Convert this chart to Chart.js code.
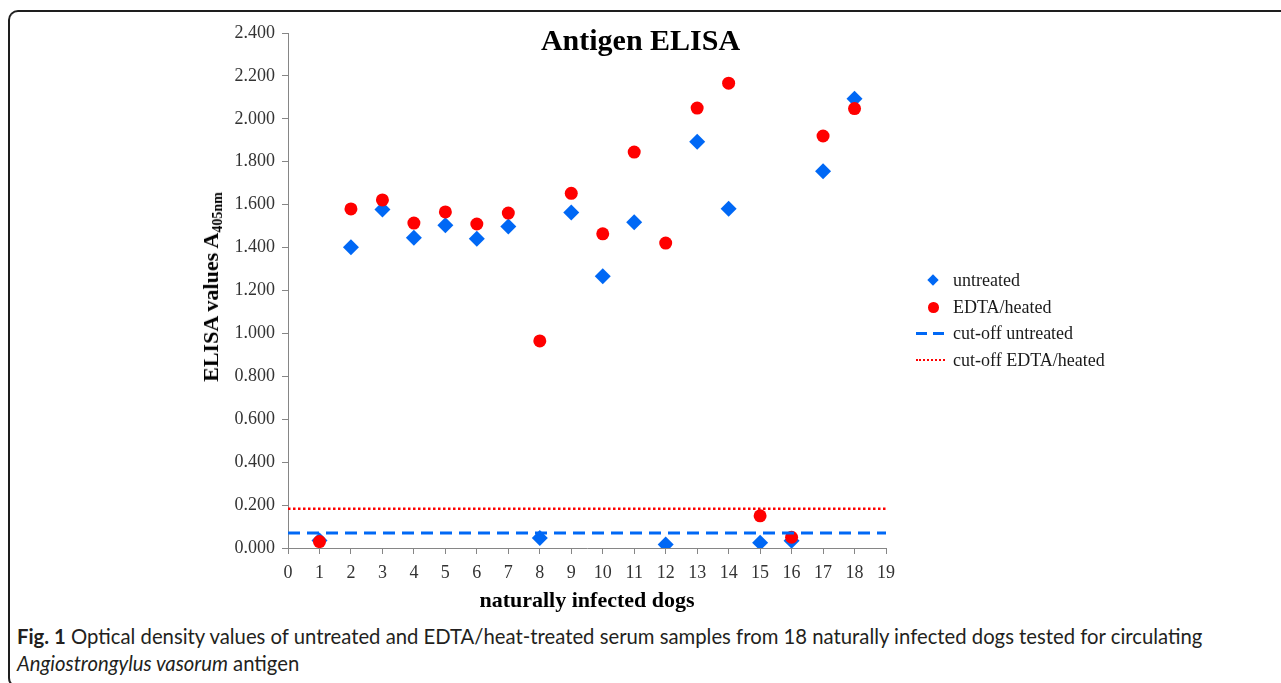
<!DOCTYPE html>
<html>
<head>
<meta charset="utf-8">
<script src="https://cdn.jsdelivr.net/npm/chart.js@4.4.1/dist/chart.umd.min.js"></script>
<style>
  html, body { margin: 0; padding: 0; background: #fff; overflow: hidden; }
  body { width: 1281px; height: 683px; position: relative; }
  #frame { position: absolute; left: 8px; top: 10px; width: 1290px; height: 678px;
           border: 2px solid #1e1e1e; border-right: none; border-radius: 10px 0 0 10px; box-sizing: border-box; }
  #elisaChart { position: absolute; left: 0; top: 0; }
  #title { position: absolute; left: 0; width: 1281px; top: 23px; text-align: center;
           font: bold 30px "Liberation Serif", serif; color: #000; }
  #ytitle { position: absolute; left: 212px; top: 287px; white-space: nowrap;
            transform: translate(-50%, -50%) rotate(-90deg);
            font: bold 22px "Liberation Serif", serif; color: #000; }
  #ytitle sub { font-size: 14px; vertical-align: -4px; }
  .lg-text { position: absolute; left: 953px; font: 18px "Liberation Serif", serif; color: #1a1a1a;
             line-height: 20px; margin-top: -10px; white-space: nowrap; }
  .sym { position: absolute; }
  #caption { position: absolute; left: 17px; top: 623px; font: 20.3px Lato, sans-serif; color: #231f20;
             line-height: 27px; white-space: nowrap; }
</style>
</head>
<body>
<div id="frame"></div>
<canvas id="elisaChart" width="1281" height="620"></canvas>
<div id="title">Antigen ELISA</div>
<div id="ytitle">ELISA values A<sub>405nm</sub></div>

<div class="sym" style="left:929px;top:276px;width:8px;height:8px;background:#0068f5;transform:rotate(45deg)"></div>
<div class="lg-text" style="top:280px">untreated</div>
<div class="sym" style="left:928px;top:302px;width:10.5px;height:10.5px;border-radius:50%;background:#ff0000"></div>
<div class="lg-text" style="top:307px">EDTA/heated</div>
<div class="sym" style="left:916px;top:332px;width:11px;height:3px;background:#0068f5"></div>
<div class="sym" style="left:933px;top:332px;width:11px;height:3px;background:#0068f5"></div>
<div class="lg-text" style="top:333px">cut-off untreated</div>
<div class="sym" style="left:916px;top:359px;width:29px;height:0;border-top:2.5px dotted #ff0000"></div>
<div class="lg-text" style="top:360px">cut-off EDTA/heated</div>

<div id="caption"><b>Fig. 1</b> Optical density values of untreated and EDTA/heat-treated serum samples from 18 naturally infected dogs tested for circulating<br><i>Angiostrongylus vasorum</i> antigen</div>

<script>
// dog number on the x axis
const dogs = [1, 2, 3, 4, 5, 6, 7, 8, 9, 10, 11, 12, 13, 14, 15, 16, 17, 18];
// A405nm values
const untreated  = [0.035, 1.402, 1.578, 1.446, 1.504, 1.441, 1.498, 0.047, 1.563, 1.266, 1.518, 0.016, 1.893, 1.581, 0.025, 0.034, 1.756, 2.094];
const edtaHeated = [0.030, 1.580, 1.622, 1.514, 1.566, 1.510, 1.561, 0.965, 1.653, 1.464, 1.845, 1.421, 2.050, 2.166, 0.150, 0.050, 1.920, 2.048];
// cut-off levels
const cutoffUntreated = 0.070;
const cutoffEdta = 0.183;
// axis ticks
const xTicks = [0, 1, 2, 3, 4, 5, 6, 7, 8, 9, 10, 11, 12, 13, 14, 15, 16, 17, 18, 19];
const yTicks = [0, 0.2, 0.4, 0.6, 0.8, 1.0, 1.2, 1.4, 1.6, 1.8, 2.0, 2.2, 2.4];

const blue = '#0068f5';
const red = '#ff0000';
const axisGrey = '#868686';
const serif = '"Liberation Serif", serif';

const xMin = xTicks[0], xMax = xTicks[xTicks.length - 1];

const ctx = document.getElementById('elisaChart').getContext('2d');
const elisaChart = new Chart(ctx, {
    type: 'scatter',
    data: {
        datasets: [
            {
                type: 'line',
                label: 'cut-off untreated',
                data: [{ x: xMin, y: cutoffUntreated }, { x: xMax, y: cutoffUntreated }],
                borderColor: blue,
                borderWidth: 3,
                borderDash: [12, 7],
                pointRadius: 0,
                order: 0
            },
            {
                type: 'line',
                label: 'cut-off EDTA/heated',
                data: [{ x: xMin, y: cutoffEdta }, { x: xMax, y: cutoffEdta }],
                borderColor: red,
                borderWidth: 2.5,
                borderDash: [2.5, 2.5],
                pointRadius: 0,
                order: 0
            },
            {
                label: 'EDTA/heated',
                data: dogs.map((d, i) => ({ x: d, y: edtaHeated[i] })),
                pointStyle: 'circle',
                pointRadius: 6.5,
                backgroundColor: red,
                borderWidth: 0,
                order: 1
            },
            {
                label: 'untreated',
                data: dogs.map((d, i) => ({ x: d, y: untreated[i] })),
                pointStyle: 'rectRot',
                pointRadius: 8,
                backgroundColor: blue,
                borderWidth: 0,
                order: 2
            }
        ]
    },
    options: {
        responsive: false,
        animation: false,
        devicePixelRatio: 1,
        layout: { padding: { left: 0, top: 33, right: 395, bottom: 0 } },
        plugins: {
            legend: { display: false },
            tooltip: { enabled: false }
        },
        scales: {
            x: {
                type: 'linear',
                min: xMin,
                max: xMax,
                afterBuildTicks: s => { s.ticks = xTicks.map(v => ({ value: v })); },
                afterFit: s => { s.height = 72; },
                ticks: {
                    font: { family: serif, size: 18 },
                    color: '#333',
                    padding: 8,
                    maxRotation: 0,
                    callback: v => String(v)
                },
                grid: { drawOnChartArea: false, drawTicks: true, tickLength: 6, color: axisGrey },
                border: { color: axisGrey, width: 1 },
                title: {
                    display: true,
                    text: 'naturally infected dogs',
                    font: { family: serif, size: 22, weight: 'bold', lineHeight: 1.2 },
                    color: '#000',
                    padding: { top: 0, bottom: 5 }
                }
            },
            y: {
                min: yTicks[0],
                max: yTicks[yTicks.length - 1],
                afterBuildTicks: s => { s.ticks = yTicks.map(v => ({ value: v })); },
                afterFit: s => { s.width = 288; },
                ticks: {
                    font: { family: serif, size: 18 },
                    color: '#333',
                    padding: 7,
                    callback: v => Number(v).toFixed(3)
                },
                grid: { drawOnChartArea: false, drawTicks: true, tickLength: 6, color: axisGrey },
                border: { color: axisGrey, width: 1 }
            }
        }
    }
});
</script>
</body>
</html>
